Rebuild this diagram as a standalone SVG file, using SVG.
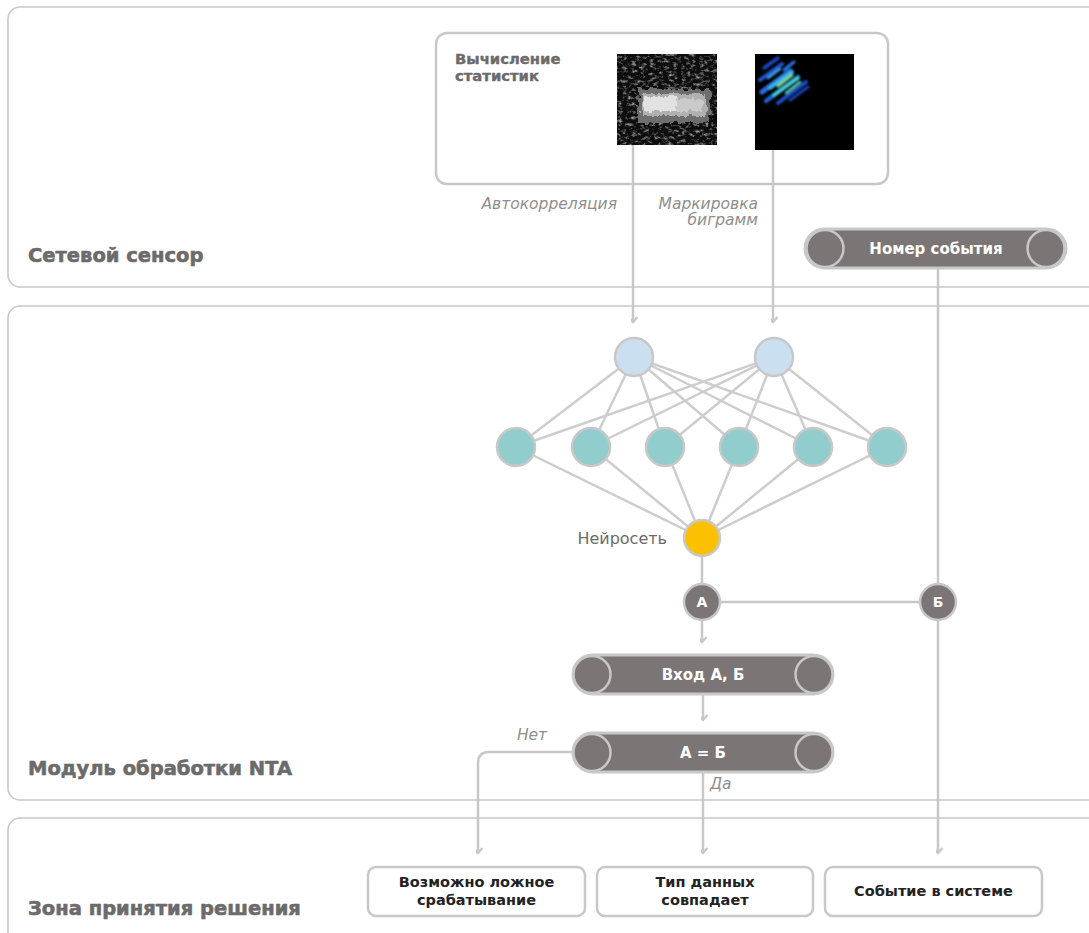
<svg xmlns="http://www.w3.org/2000/svg" width="1089" height="933" viewBox="0 0 1089 933">
  <style>
    .panel { fill: #ffffff; stroke: #c8c8c8; stroke-width: 1.6; }
    .zone { font-family: "DejaVu Sans", "Liberation Sans", sans-serif; font-weight: 700; font-size: 19.5px; fill: #6b6b6b; stroke: #6b6b6b; stroke-width: 0.6; }
    .box { fill: #ffffff; stroke: #c8c8c8; stroke-width: 2.5; }
    .boxtxt { font-family: "DejaVu Sans", "Liberation Sans", sans-serif; font-weight: 700; font-size: 14.5px; fill: #222222; text-anchor: middle; }
    .cap { fill: #7b7675; stroke: #c8c8c8; stroke-width: 3; }
    .capend { fill: #7b7675; stroke: #c8c8c8; stroke-width: 2.5; }
    .captxt { font-family: "DejaVu Sans", "Liberation Sans", sans-serif; font-weight: 700; font-size: 15px; fill: #ffffff; text-anchor: middle; }
    .note { font-family: "DejaVu Sans", "Liberation Sans", sans-serif; font-style: italic; font-size: 15.5px; fill: #8e8e8e; }
    .lbl { font-family: "DejaVu Sans", "Liberation Sans", sans-serif; font-size: 16px; fill: #6b6b6b; }
    .head { font-family: "DejaVu Sans", "Liberation Sans", sans-serif; font-weight: 700; font-size: 14.8px; fill: #6b6b6b; stroke: #6b6b6b; stroke-width: 0.4; }
    .conn { fill: none; stroke: #c8c8c8; stroke-width: 2.5; }
    .edge { stroke: #cdcdcd; stroke-width: 2.5; }
    .in { fill: #cadff0; stroke: #c8c8c8; stroke-width: 2.5; }
    .hid { fill: #92cdcd; stroke: #c8c8c8; stroke-width: 2.5; }
    .out { fill: #fbc100; stroke: #c8c8c8; stroke-width: 2.5; }
  </style>
  <defs>
    <marker id="chev" viewBox="-6 -7 12 9" markerWidth="12" markerHeight="9" refX="0" refY="0" markerUnits="userSpaceOnUse" orient="auto-start-reverse">
      <path d="M-4.5,-5 L0,0 L4.5,-5" fill="none" stroke="#c8c8c8" stroke-width="2.5" transform="rotate(-90)"/>
    </marker>
    <filter id="grain" x="0" y="0" width="100%" height="100%">
      <feTurbulence type="fractalNoise" baseFrequency="0.22 0.3" numOctaves="3" seed="11" result="n"/>
      <feColorMatrix in="n" type="matrix" values="0 0 0 0 0.36  0 0 0 0 0.36  0 0 0 0 0.36  2.6 0 0 0 -1.25"/>
      <feComposite in2="SourceGraphic" operator="in"/>
    </filter>
    <filter id="rough" x="-10%" y="-25%" width="120%" height="150%">
      <feTurbulence type="fractalNoise" baseFrequency="0.18 0.12" numOctaves="2" seed="7" result="t"/>
      <feDisplacementMap in="SourceGraphic" in2="t" scale="9" xChannelSelector="R" yChannelSelector="G" result="d"/>
      <feGaussianBlur in="d" stdDeviation="0.6"/>
    </filter>
    <filter id="soft" x="-20%" y="-20%" width="140%" height="140%">
      <feGaussianBlur stdDeviation="1.1"/>
    </filter>
    <filter id="edgeblur" x="-5%" y="-5%" width="110%" height="110%">
      <feGaussianBlur stdDeviation="0.7"/>
    </filter>
  </defs>

  <!-- swim-lane panels -->
  <g id="lane-sensor">
    <rect class="panel" x="8" y="7" width="1100" height="280" rx="12"/>
    <text class="zone" x="28" y="262">Сетевой сенсор</text>
  </g>
  <g id="lane-nta">
    <rect class="panel" x="8" y="306" width="1100" height="494" rx="12"/>
    <text class="zone" x="28" y="775">Модуль обработки NTA</text>
  </g>
  <g id="lane-decision">
    <rect class="panel" x="8" y="818" width="1100" height="140" rx="12"/>
    <text class="zone" x="28" y="915">Зона принятия решения</text>
  </g>

  <!-- statistics block with two heat-map thumbnails -->
  <g id="stats">
    <rect class="box" x="436" y="33" width="452" height="151" rx="11"/>
    <text class="head" x="455" y="64">Вычисление</text>
    <text class="head" x="455" y="81">статистик</text>
    <!-- autocorrelation map -->
    <g id="autocorr-map" filter="url(#edgeblur)">
      <rect x="617" y="54" width="100" height="91" fill="#0b0b0b"/>
      <rect x="617" y="54" width="100" height="91" fill="#000" filter="url(#grain)"/>
      <rect x="638" y="89" width="72" height="34" fill="#6e6e6e" filter="url(#rough)"/>
      <rect x="642" y="94" width="64" height="22" fill="#b0b0b0" filter="url(#rough)"/>
      <rect x="644" y="97" width="32" height="14" fill="#e2e2e2" filter="url(#rough)"/>
      <rect x="676" y="99" width="26" height="11" fill="#cacaca" filter="url(#rough)"/>
    </g>
    <!-- bigram marking map -->
    <g id="bigram-map">
      <rect x="755" y="54" width="99" height="96" fill="#000000" filter="url(#edgeblur)"/>
      <g filter="url(#soft)" stroke-linecap="round">
        <path d="M764,68 L778,58" stroke="#1e48c8" stroke-width="3.5"/>
        <path d="M760,80 L782,64" stroke="#2358d8" stroke-width="4"/>
        <path d="M762,92 L790,71" stroke="#2a70e6" stroke-width="5"/>
        <path d="M766,101 L798,77" stroke="#2462d8" stroke-width="4.5"/>
        <path d="M778,103 L806,82" stroke="#1f50c8" stroke-width="4"/>
        <path d="M790,100 L808,87" stroke="#1a44b8" stroke-width="3"/>
        <path d="M770,88 L792,72" stroke="#38b6e4" stroke-width="4"/>
        <path d="M774,95 L798,78" stroke="#44cfd6" stroke-width="3.5"/>
        <path d="M778,86 L792,75" stroke="#7fd98a" stroke-width="3"/>
        <path d="M786,93 L800,82" stroke="#5ccfb2" stroke-width="2.5"/>
        <path d="M784,70 L794,62" stroke="#2a78e6" stroke-width="3"/>
        <path d="M768,78 L780,69" stroke="#3aa8e8" stroke-width="2.5"/>
      </g>
    </g>
  </g>

  <text class="note" x="617" y="209" text-anchor="end">Автокорреляция</text>
  <text class="note" x="758" y="209" text-anchor="end">Маркировка</text>
  <text class="note" x="758" y="225" text-anchor="end">биграмм</text>

  <!-- connectors -->
  <g id="connectors">
    <line class="conn" x1="633" y1="145" x2="633" y2="322" marker-end="url(#chev)"/>
    <line class="conn" x1="773" y1="150" x2="773" y2="322" marker-end="url(#chev)"/>
    <line class="conn" x1="938" y1="268" x2="938" y2="853" marker-end="url(#chev)"/>
    <line class="conn" x1="702" y1="538" x2="702" y2="602"/>
    <line class="conn" x1="702" y1="602" x2="938" y2="602"/>
    <line class="conn" x1="702" y1="620" x2="702" y2="642" marker-end="url(#chev)"/>
    <line class="conn" x1="703" y1="694" x2="703" y2="720" marker-end="url(#chev)"/>
    <path class="conn" d="M573,752 H489 Q478,752 478,763 V853" marker-end="url(#chev)"/>
    <line class="conn" x1="703" y1="772" x2="703" y2="853" marker-end="url(#chev)"/>
    <!-- network weights -->
    <g id="weights">
      <line class="edge" x1="634" y1="357" x2="516" y2="447"/>
      <line class="edge" x1="634" y1="357" x2="591" y2="447"/>
      <line class="edge" x1="634" y1="357" x2="665" y2="447"/>
      <line class="edge" x1="634" y1="357" x2="739" y2="447"/>
      <line class="edge" x1="634" y1="357" x2="813" y2="447"/>
      <line class="edge" x1="634" y1="357" x2="887" y2="447"/>
      <line class="edge" x1="774" y1="357" x2="516" y2="447"/>
      <line class="edge" x1="774" y1="357" x2="591" y2="447"/>
      <line class="edge" x1="774" y1="357" x2="665" y2="447"/>
      <line class="edge" x1="774" y1="357" x2="739" y2="447"/>
      <line class="edge" x1="774" y1="357" x2="813" y2="447"/>
      <line class="edge" x1="774" y1="357" x2="887" y2="447"/>
      <line class="edge" x1="516" y1="447" x2="702" y2="538"/>
      <line class="edge" x1="591" y1="447" x2="702" y2="538"/>
      <line class="edge" x1="665" y1="447" x2="702" y2="538"/>
      <line class="edge" x1="739" y1="447" x2="702" y2="538"/>
      <line class="edge" x1="813" y1="447" x2="702" y2="538"/>
      <line class="edge" x1="887" y1="447" x2="702" y2="538"/>
    </g>
  </g>

  <!-- event number capsule -->
  <g id="event-number">
    <rect class="cap" x="805" y="229" width="261" height="39" rx="19.5"/>
    <circle class="capend" cx="825" cy="248.5" r="18.5"/>
    <circle class="capend" cx="1046" cy="248.5" r="18.5"/>
    <text class="captxt" x="936" y="254">Номер события</text>
  </g>

  <!-- neural network -->
  <g id="nn-input-1"><circle class="in" cx="634" cy="357" r="19"/></g>
  <g id="nn-input-2"><circle class="in" cx="774" cy="357" r="19"/></g>
  <g id="nn-hidden">
    <circle class="hid" cx="516" cy="447" r="19"/>
    <circle class="hid" cx="591" cy="447" r="19"/>
    <circle class="hid" cx="665" cy="447" r="19"/>
    <circle class="hid" cx="739" cy="447" r="19"/>
    <circle class="hid" cx="813" cy="447" r="19"/>
    <circle class="hid" cx="887" cy="447" r="19"/>
  </g>
  <g id="nn-output">
    <circle class="out" cx="702" cy="538" r="18"/>
    <text class="lbl" x="667" y="544" text-anchor="end">Нейросеть</text>
  </g>

  <!-- A / Б junctions -->
  <g id="node-a">
    <circle class="capend" cx="702" cy="602" r="18"/>
    <text class="captxt" x="702" y="607" style="font-size:14px">А</text>
  </g>
  <g id="node-b">
    <circle class="capend" cx="938" cy="602" r="18"/>
    <text class="captxt" x="938" y="607" style="font-size:14px">Б</text>
  </g>

  <!-- input capsule -->
  <g id="input-ab">
    <rect class="cap" x="573" y="655" width="260" height="39" rx="19.5"/>
    <circle class="capend" cx="592" cy="674.5" r="18.5"/>
    <circle class="capend" cx="814" cy="674.5" r="18.5"/>
    <text class="captxt" x="703" y="680">Вход А, Б</text>
  </g>

  <!-- comparison capsule -->
  <g id="compare-ab">
    <rect class="cap" x="573" y="733" width="260" height="39" rx="19.5"/>
    <circle class="capend" cx="592" cy="752.5" r="18.5"/>
    <circle class="capend" cx="814" cy="752.5" r="18.5"/>
    <text class="captxt" x="703" y="758">А = Б</text>
  </g>
  <text class="note" x="532" y="740" text-anchor="middle">Нет</text>
  <text class="note" x="710" y="789">Да</text>

  <!-- outcomes -->
  <g id="false-positive">
    <rect class="box" x="368" y="867" width="217" height="49" rx="8"/>
    <text class="boxtxt" x="476.5" y="887">Возможно ложное</text>
    <text class="boxtxt" x="476.5" y="905">срабатывание</text>
  </g>
  <g id="type-match">
    <rect class="box" x="597" y="867" width="216" height="49" rx="8"/>
    <text class="boxtxt" x="705" y="887">Тип данных</text>
    <text class="boxtxt" x="705" y="905">совпадает</text>
  </g>
  <g id="system-event">
    <rect class="box" x="825" y="867" width="217" height="49" rx="8"/>
    <text class="boxtxt" x="933.5" y="896">Событие в системе</text>
  </g>
</svg>
